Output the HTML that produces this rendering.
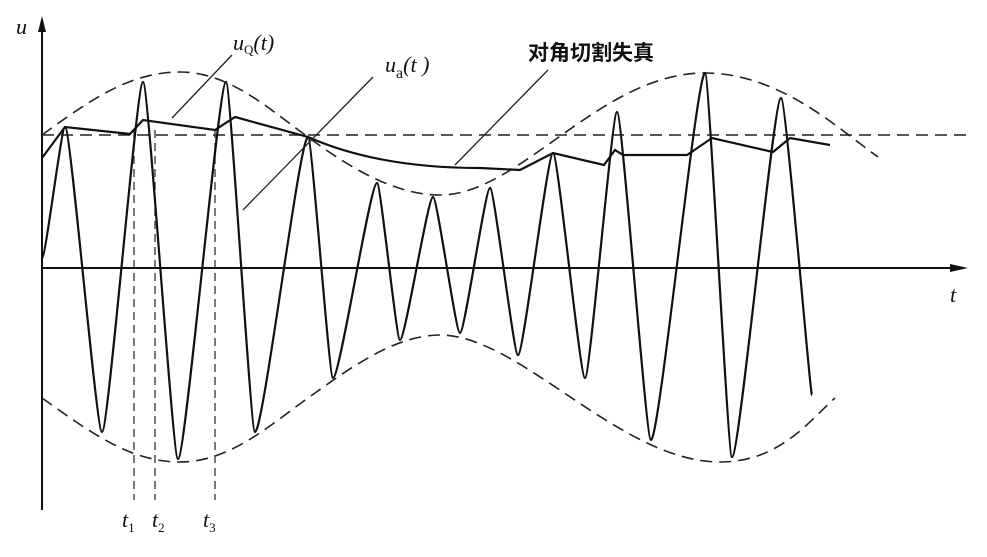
<!DOCTYPE html>
<html><head><style>body{margin:0;background:#fff}svg{display:block}</style></head><body>
<svg width="987" height="557" viewBox="0 0 987 557" xmlns="http://www.w3.org/2000/svg" font-family="Liberation Serif, serif">
<g stroke="#111" fill="none" stroke-width="2">
<line x1="42" y1="510" x2="42" y2="22"/>
<polygon points="42,16 38,32 46,32" fill="#111" stroke="none"/>
<line x1="42" y1="268" x2="960" y2="268"/>
<polygon points="968,268 950,264 950,272" fill="#111" stroke="none"/>
</g>
<g stroke="#222" fill="none" stroke-width="1.6" stroke-dasharray="12,7">
<line x1="42" y1="135" x2="970" y2="135"/>
<path d="M42,135 C90,100 130,72 180,72 C230,72 270,110 308,137 C350,168 395,195 440,195 C520,195 600,73 705,73 C780,73 840,130 878,157"/>
<path d="M42,398 C90,432 130,462 180,462 C230,462 270,425 308,398 C350,368 395,335 440,335 C520,335 620,462 720,462 C780,462 810,420 835,398"/>
</g>
<g stroke="#333" fill="none" stroke-width="1.3" stroke-dasharray="8,5">
<line x1="134" y1="130" x2="134" y2="500"/>
<line x1="155" y1="130" x2="155" y2="500"/>
<line x1="215" y1="130" x2="215" y2="500"/>
</g>
<path stroke="#111" fill="none" stroke-width="2.2" d="M42,258 C45.7,258 61.3,127 65,127 C70.9,127 96.1,432 102,432 C108.6,432 136.4,82 143,82 C148.6,82 172.4,459 178,459 C185.7,459 218.3,82 226,82 C230.6,82 250.4,432 255,432 C263.5,432 299.5,137 308,137 C312,137 329,378 333,378 C340,378 370,183 377,183 C380.7,183 396.3,340 400,340 C405.3,340 427.7,197 433,197 C437.3,197 455.7,333 460,333 C464.8,333 485.2,188 490,188 C494.5,188 513.5,355 518,355 C523.6,355 547.4,153 553,153 C558.1,153 579.9,378 585,378 C590.1,378 611.9,112 617,112 C622.4,112 645.6,440 651,440 C659.6,440 696.4,73 705,73 C709.3,73 727.7,457 732,457 C739.8,457 773.2,98 781,98 C786,98 810,395 812,395"/>
<path stroke="#111" fill="none" stroke-width="2.2" d="M42,158 L65,127 L130,134 L143,120 L215,130 L235,117 L308,137 C360,160 420,168 480,168 L520,170 L553,153 L604,165 L615,150 L623,155 L687,155 L712,138 L773,152 L790,138 L830,145"/>
<g stroke="#222" fill="none" stroke-width="1.3">
<line x1="232" y1="55" x2="172" y2="118"/>
<line x1="373" y1="77" x2="243" y2="210"/>
<line x1="548" y1="70" x2="455" y2="165"/>
</g>
<g font-style="italic" fill="#111" font-size="22">
<text x="16" y="34">u</text>
<text x="950" y="302">t</text>
<text x="233" y="50">u<tspan font-style="normal" font-size="13" dy="4">Q</tspan><tspan dy="-4">(</tspan>t<tspan>)</tspan></text>
<text x="385" y="72">u<tspan font-style="normal" font-size="16" dy="6">a</tspan><tspan dy="-6">(</tspan>t<tspan> )</tspan></text>
<text x="122" y="527">t<tspan font-size="13" font-style="normal" dy="5">1</tspan></text>
<text x="152" y="527">t<tspan font-size="13" font-style="normal" dy="5">2</tspan></text>
<text x="203" y="527">t<tspan font-size="13" font-style="normal" dy="5">3</tspan></text>
</g>
<text x="528" y="60" font-family="Liberation Sans, Noto Sans CJK SC, sans-serif" font-weight="bold" font-size="21" fill="#111">对角切割失真</text>
</svg>
</body></html>
